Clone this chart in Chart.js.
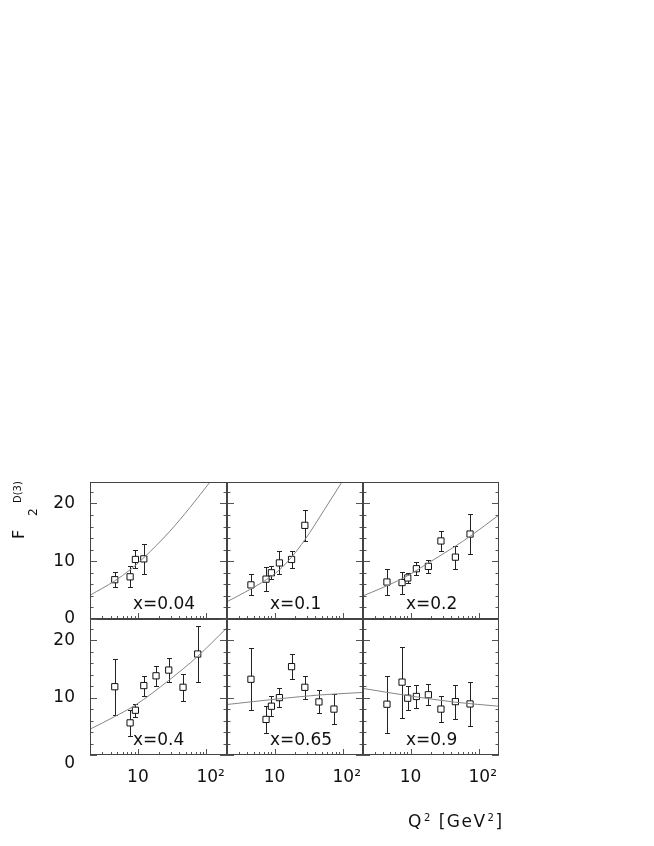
<!DOCTYPE html>
<html><head><meta charset="utf-8">
<script src="https://cdn.jsdelivr.net/npm/chart.js@4.4.1/dist/chart.umd.min.js"></script>
<style>
html,body{margin:0;padding:0;background:#fff;}
#wrap{position:relative;width:654px;height:846px;overflow:hidden;background:#fff;}
canvas{position:absolute;}
</style></head><body><div id="wrap"><canvas id="titles" width="654" height="846" style="left:0;top:0;width:654px;height:846px"></canvas></div>
<script>
// ---------------- data ----------------
const panelLabels = ['x=0.04', 'x=0.1', 'x=0.2', 'x=0.4', 'x=0.65', 'x=0.9'];

const q2_004 = [4.6, 7.7, 9.2, 12.2];
const f2_004 = [6.8, 7.3, 10.3, 10.4];
const err_004 = [1.35, 1.8, 1.55, 2.6];
const fitQ2_004 = [2, 4.6, 7.7, 12.2, 29.4, 57.7, 113];
const fitF2_004 = [4.1, 6.6, 8.5, 10.6, 15.2, 19.3, 23.7];

const q2_01 = [4.5, 7.5, 9.0, 11.8, 17.8, 27.9];
const f2_01 = [5.9, 6.9, 8.0, 9.7, 10.3, 16.2];
const err_01 = [1.8, 2.1, 1.1, 2.0, 1.5, 2.7];
const fitQ2_01 = [2, 4.5, 9.0, 11.8, 17.8, 27.9, 54.7, 98];
const fitF2_01 = [3.0, 5.2, 7.4, 8.5, 10.7, 13.7, 19.0, 23.7];

const q2_02 = [4.5, 7.5, 9.1, 12.2, 18.3, 28, 45.7, 75];
const f2_02 = [6.4, 6.3, 7.1, 8.7, 9.1, 13.5, 10.7, 14.7];
const err_02 = [2.2, 1.9, 0.9, 1.1, 1.1, 1.8, 2.0, 3.4];
const fitQ2_02 = [2, 4.5, 9.1, 18.3, 45.7, 75, 200];
const fitF2_02 = [4.0, 5.75, 7.5, 9.7, 12.6, 14.3, 18.0];

const q2_04 = [4.6, 7.7, 9.2, 12.2, 18.4, 28.2, 45.6, 74.7];
const f2_04 = [11.9, 5.6, 7.8, 12.1, 13.8, 14.8, 11.8, 17.6];
const err_04 = [4.9, 2.3, 1.15, 1.75, 1.75, 2.1, 2.4, 4.8];
const fitQ2_04 = [2, 4.6, 9.2, 28.2, 74.7, 193];
const fitF2_04 = [4.5, 6.7, 8.7, 13.0, 17.2, 22.0];

const q2_065 = [4.5, 7.5, 9.0, 11.8, 17.8, 27.9, 45, 74.8];
const f2_065 = [13.2, 6.2, 8.5, 10.0, 15.4, 11.8, 9.25, 8.0];
const err_065 = [5.4, 2.3, 1.7, 1.6, 2.2, 2.0, 2.0, 2.6];
const fitQ2_065 = [2, 11.8, 45, 200];
const fitF2_065 = [8.8, 9.8, 10.45, 10.9];

const q2_09 = [4.5, 7.5, 9.1, 12.2, 18.3, 28, 45.7, 75];
const f2_09 = [8.85, 12.7, 9.9, 10.2, 10.5, 8.0, 9.3, 8.9];
const err_09 = [5.0, 6.2, 2.1, 2.0, 1.85, 2.2, 2.95, 3.9];
const fitQ2_09 = [2, 9.1, 45.7, 200];
const fitF2_09 = [11.6, 10.35, 9.2, 8.5];

// axes
const xMin = 2, xMax = 200;
const yMin = 0, yMax = 23.7;
const xMajorTicks = [10, 100];
const xMinorTicks = [3, 4, 5, 6, 7, 8, 9, 20, 30, 40, 50, 60, 70, 80, 90];
const xTickLabels = ['10', '\u200210\u00b2'];
const yMajorTicks = [0, 10, 20];
const yMinorTicks = [2, 4, 6, 8, 12, 14, 16, 18, 22];
const yTitle = ['F', '2', 'D(3)'];
const xTitle = ['Q', '2', ' [GeV', '2', ']'];

// ---------------- build ----------------
const panels = [
  {q: q2_004, f: f2_004, e: err_004, fq: fitQ2_004, ff: fitF2_004},
  {q: q2_01, f: f2_01, e: err_01, fq: fitQ2_01, ff: fitF2_01},
  {q: q2_02, f: f2_02, e: err_02, fq: fitQ2_02, ff: fitF2_02},
  {q: q2_04, f: f2_04, e: err_04, fq: fitQ2_04, ff: fitF2_04},
  {q: q2_065, f: f2_065, e: err_065, fq: fitQ2_065, ff: fitF2_065},
  {q: q2_09, f: f2_09, e: err_09, fq: fitQ2_09, ff: fitF2_09}
];

const colLeft = [90, 227, 363], colW = [137, 136, 136];
const rowTop = [482, 619], rowH = [137, 136];
const yAxisW = 90, xAxisH = 45, labelRoom = 12;
const FONT = 'DejaVu Sans';

// axis titles (text on a plain canvas under the charts)
(function drawTitles() {
  const ctx = document.getElementById('titles').getContext('2d');
  ctx.fillStyle = '#111';
  ctx.textBaseline = 'alphabetic';
  ctx.save();
  ctx.translate(24, 539);
  ctx.rotate(-Math.PI / 2);
  ctx.font = '16px "' + FONT + '"';
  ctx.fillText(yTitle[0], 0, 0);
  ctx.font = '12px "' + FONT + '"';
  ctx.fillText(yTitle[1], 23, 13);
  ctx.font = '10px "' + FONT + '"';
  ctx.fillText(yTitle[2], 36, -3);
  ctx.restore();
  ctx.save();
  if ('letterSpacing' in ctx) ctx.letterSpacing = '1.5px';
  let xx = 408;
  const big = '17px "' + FONT + '"', small = '10px "' + FONT + '"';
  xTitle.forEach((s, i) => {
    const sup = (i === 1 || i === 3);
    ctx.font = sup ? small : big;
    ctx.fillText(s, xx + (sup ? 1 : 0), sup ? 821 : 827);
    xx += ctx.measureText(s).width + (sup ? 1 : 0);
  });
  ctx.restore();
})();

const panelPlugin = {
  id: 'panelDeco',
  beforeDatasetDraw(chart, args) {
    if (args.index !== 1) return;
    const d = panels[chart.options.plugins.panelDeco.p];
    const {ctx, scales: {x, y}} = chart;
    ctx.save();
    ctx.strokeStyle = '#222';
    ctx.lineWidth = 1;
    ctx.beginPath();
    d.q.forEach((q, i) => {
      const px = Math.round(x.getPixelForValue(q)) + 0.5;
      const yt = Math.round(y.getPixelForValue(d.f[i] + d.e[i])) + 0.5;
      const yb = Math.round(y.getPixelForValue(d.f[i] - d.e[i])) + 0.5;
      ctx.moveTo(px, yt); ctx.lineTo(px, yb);
      ctx.moveTo(px - 2.5, yt); ctx.lineTo(px + 2.5, yt);
      ctx.moveTo(px - 2.5, yb); ctx.lineTo(px + 2.5, yb);
    });
    ctx.stroke();
    ctx.restore();
  },
  afterDraw(chart) {
    const p = chart.options.plugins.panelDeco.p;
    const {ctx, chartArea: a, scales: {x, y}} = chart;
    ctx.save();
    ctx.strokeStyle = '#555';
    ctx.lineWidth = 1;
    ctx.beginPath();
    yMajorTicks.concat(yMinorTicks).forEach(v => {
      const py = Math.round(y.getPixelForValue(v)) + 0.5;
      const len = yMajorTicks.includes(v) ? 7 : 3.5;
      ctx.moveTo(a.left, py); ctx.lineTo(a.left + len, py);
      ctx.moveTo(a.right, py); ctx.lineTo(a.right - len, py);
    });
    xMajorTicks.concat(xMinorTicks).forEach(v => {
      const px = Math.round(x.getPixelForValue(v)) + 0.5;
      const len = xMajorTicks.includes(v) ? 6 : 3;
      ctx.moveTo(px, a.bottom); ctx.lineTo(px, a.bottom - len);
    });
    ctx.stroke();
    ctx.strokeStyle = '#444';
    ctx.strokeRect(a.left + 0.5, a.top + 0.5, a.right - a.left - 1, a.bottom - a.top - 1);
    ctx.fillStyle = '#111';
    ctx.font = '17px "' + FONT + '"';
    ctx.textBaseline = 'alphabetic';
    ctx.textAlign = 'left';
    ctx.fillText(panelLabels[p], a.left + 43, a.bottom - 10.5);
    ctx.restore();
  }
};

const wrap = document.getElementById('wrap');
panels.forEach((d, p) => {
  const r = Math.floor(p / 3), c = p % 3;
  const cv = document.createElement('canvas');
  const left = c === 0 ? 0 : colLeft[c];
  const w = c === 0 ? colLeft[0] + colW[0] : colW[c];
  const extraBottom = (r === 0 && c === 0) ? labelRoom : 0;
  const h = rowH[r] + (r === 1 ? xAxisH : 0) + extraBottom;
  cv.width = w; cv.height = h;
  cv.style.left = left + 'px'; cv.style.top = rowTop[r] + 'px';
  cv.style.width = w + 'px'; cv.style.height = h + 'px';
  cv.style.zIndex = String(r === 0 && c === 0 ? 2 : 1);
  wrap.appendChild(cv);
  const showX = r === 1, showY = c === 0;
  new Chart(cv, {
    type: 'line',
    data: {
      datasets: [
        {
          data: d.fq.map((q, i) => ({x: q, y: d.ff[i]})),
          borderColor: '#858585', borderWidth: 1, pointRadius: 0,
          tension: 0.4, cubicInterpolationMode: 'monotone', fill: false
        },
        {
          data: d.q.map((q, i) => ({x: q, y: d.f[i]})),
          showLine: false, pointStyle: 'rect', pointRadius: 4.4,
          pointBackgroundColor: '#fff', pointBorderColor: '#111', pointBorderWidth: 1,
          clip: false
        }
      ]
    },
    options: {
      responsive: false, animation: false, devicePixelRatio: 1,
      layout: {padding: {left: 0, right: 0, top: 0, bottom: extraBottom}, autoPadding: false},
      events: [],
      plugins: {legend: {display: false}, tooltip: {enabled: false}, panelDeco: {p: p}},
      scales: {
        x: {
          type: 'logarithmic', min: xMin, max: xMax, display: showX,
          grid: {display: false, drawTicks: false}, border: {display: false},
          afterBuildTicks: s => { s.ticks = xMajorTicks.map(v => ({value: v})); },
          ticks: {
            autoSkip: false, maxRotation: 0, minRotation: 0, padding: 14, color: '#111',
            font: {family: FONT, size: 17, lineHeight: 1},
            callback: v => v === xMajorTicks[0] ? xTickLabels[0] : (v === xMajorTicks[1] ? xTickLabels[1] : '')
          },
          afterFit: s => {
            if (showX) s.height = xAxisH;
            s.paddingLeft = 0; s.paddingRight = 0; s.paddingTop = 0; s.paddingBottom = 0;
          }
        },
        y: {
          type: 'linear', min: yMin, max: yMax, display: showY,
          grid: {display: false, drawTicks: false}, border: {display: false},
          afterBuildTicks: s => { s.ticks = yMajorTicks.map(v => ({value: v})); },
          ticks: {
            padding: 15, color: '#111',
            font: {family: FONT, size: 17, lineHeight: 1},
            callback: v => (r === 1 && v === 0) ? ['', '0'] : String(v)
          },
          afterFit: s => {
            if (showY) s.width = yAxisW;
            s.paddingLeft = 0; s.paddingRight = 0; s.paddingTop = 0; s.paddingBottom = 0;
          }
        }
      }
    },
    plugins: [panelPlugin]
  });
});
</script>
</body></html>
